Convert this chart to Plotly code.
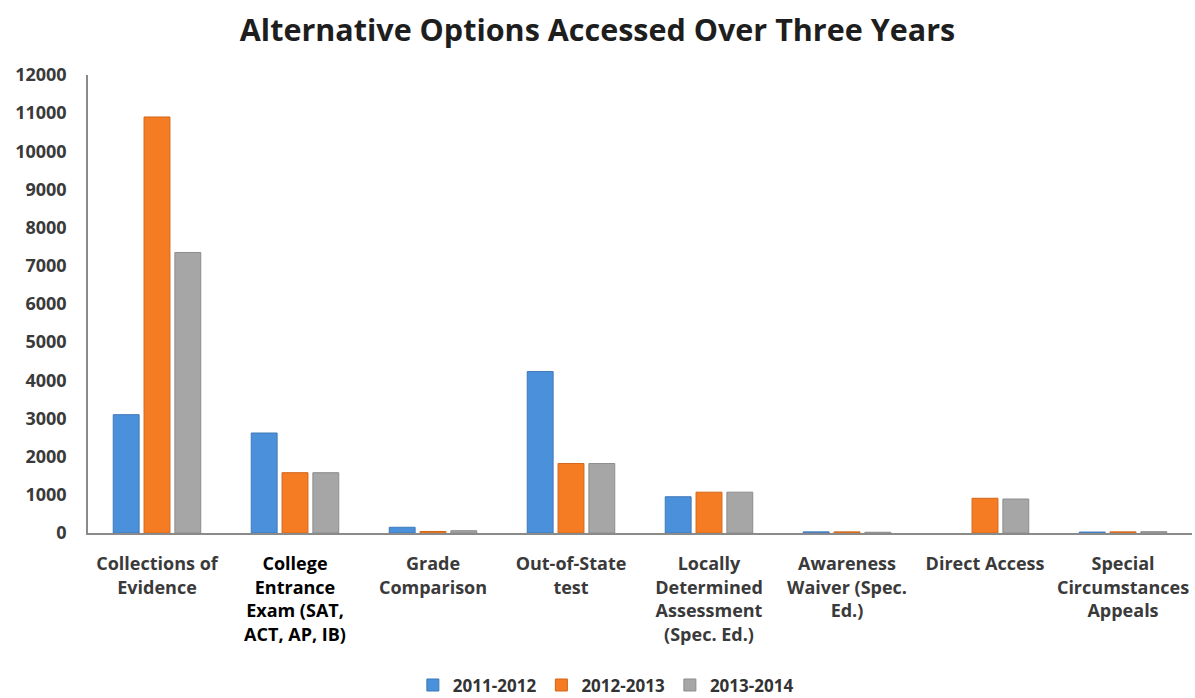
import plotly.graph_objects as go

# Alternative options, counts per school year
categories = [
    "Collections of<br>Evidence",
    "<span style='color:#000'>College<br>Entrance<br>Exam (SAT,<br>ACT, AP, IB)</span>",
    "Grade<br>Comparison",
    "Out-of-State<br>test",
    "Locally<br>Determined<br>Assessment<br>(Spec. Ed.)",
    "Awareness<br>Waiver (Spec.<br>Ed.)",
    "Direct Access",
    "Special<br>Circumstances<br>Appeals",
]
years = ["2011-2012", "2012-2013", "2013-2014"]
y2011_2012 = [3100, 2620, 150, 4230, 950, 30, 0, 25]
y2012_2013 = [10900, 1580, 40, 1820, 1070, 30, 910, 30]
y2013_2014 = [7350, 1580, 60, 1820, 1070, 20, 890, 35]
y_ticks = list(range(0, 12001, 1000))

series = [y2011_2012, y2012_2013, y2013_2014]
fills = ["#4a90da", "#f57c22", "#a6a6a6"]
edges = ["#3f78b8", "#d0661a", "#8c8c8c"]

fig = go.Figure()
for name, vals, fc, ec in zip(years, series, fills, edges):
    fig.add_trace(go.Bar(
        x=categories, y=vals, name=name,
        marker=dict(color=fc, line=dict(color=ec, width=[1 if v > 0 else 0 for v in vals])),
    ))

font_family = "Open Sans, Lato, sans-serif"
fig.update_layout(
    width=1195, height=698,
    margin=dict(l=88, r=3, t=75, b=165, autoexpand=False),
    paper_bgcolor="white", plot_bgcolor="white",
    barmode="group", bargap=0.33, bargroupgap=0.16,
    title=dict(
        text="<b>Alternative Options Accessed Over Three Years</b>",
        x=0.5, xanchor="center", y=0.957, yanchor="middle",
        font=dict(family=font_family, size=30.5, color="#1e1e1e"),
    ),
    legend=dict(
        orientation="h", xref="container", yref="container",
        x=0.507, xanchor="center", y=0.018, yanchor="middle",
        font=dict(family=font_family, size=17, color="#333", weight="bold"),
        traceorder="normal", tracegroupgap=0, itemwidth=30,
    ),
    font=dict(family=font_family, color="#404040"),
    showlegend=True,
)
fig.update_xaxes(
    showline=True, linecolor="#8a8a8a", linewidth=1.5,
    showgrid=False, ticks="", automargin=False,
    ticklabelstandoff=14,
    tickfont=dict(family=font_family, size=18, color="#3a3a3a", weight="bold"),
    tickangle=0,
)
fig.update_yaxes(
    range=[0, 12000], tickvals=y_ticks, ticktext=[str(v) for v in y_ticks],
    showline=True, linecolor="#8a8a8a", linewidth=1.5,
    showgrid=False, zeroline=False, ticks="", automargin=False,
    ticklabelstandoff=16,
    tickfont=dict(family=font_family, size=18, color="#3a3a3a", weight="bold"),
)

fig.write_html("out.html")
